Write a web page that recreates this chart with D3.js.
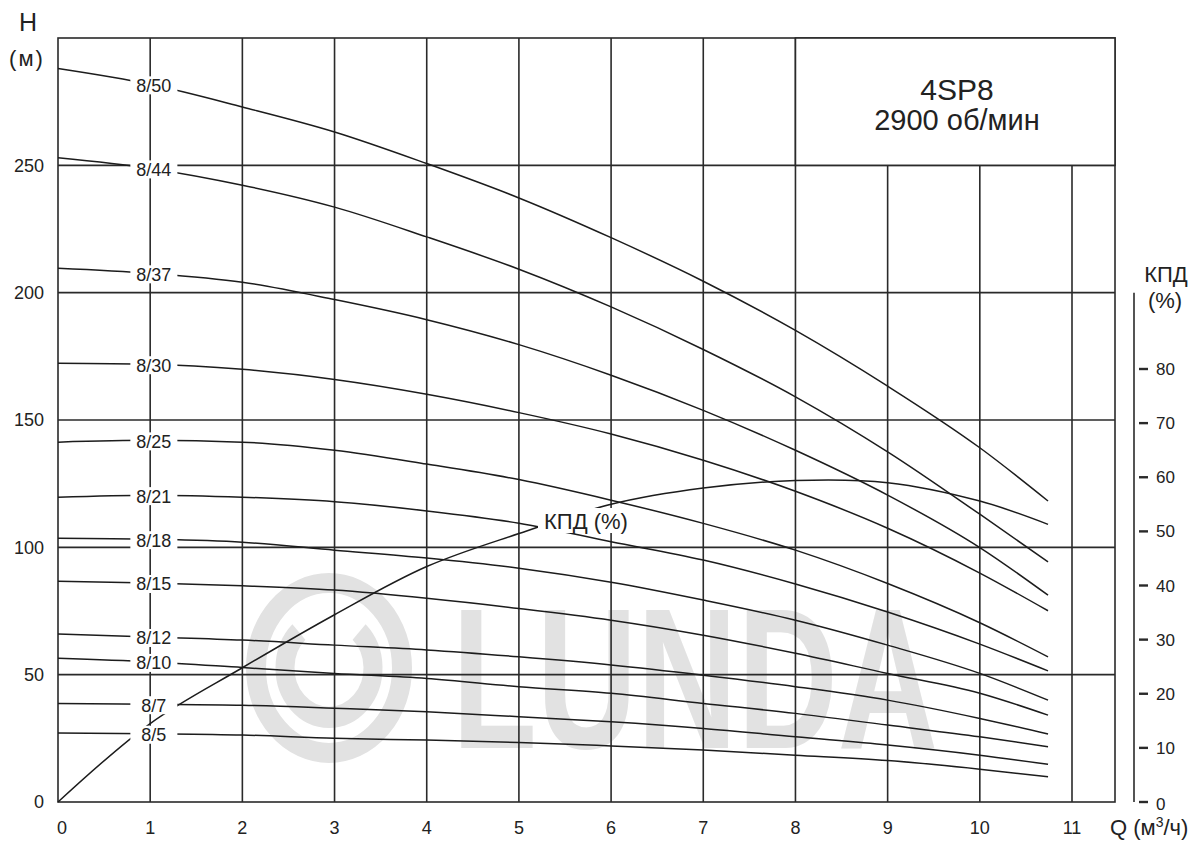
<!DOCTYPE html>
<html><head><meta charset="utf-8">
<script src="https://cdn.jsdelivr.net/npm/d3@7/dist/d3.min.js"></script>
<style>
body{margin:0;background:#fff}
text{font-family:"Liberation Sans",Arial,Helvetica,sans-serif;fill:#222}
</style>
</head><body>
<svg id="chart" width="1200" height="841"></svg>
<script>
// ---- data ----
const flow = [0, 1, 2, 3, 4, 5, 6, 7, 8, 9, 10, 10.74];
const models = ["8/50","8/44","8/37","8/30","8/25","8/21","8/18","8/15","8/12","8/10","8/7","8/5"];
const head_8_50 = [288, 281.8, 272.9, 263.1, 250.7, 237.2, 221.6, 204.5, 185.2, 163.3, 139.1, 118.2];
const head_8_44 = [253, 248.8, 242.2, 233.6, 221.9, 209.2, 194.4, 177.7, 159.1, 137.5, 113, 94.3];
const head_8_37 = [209.6, 207.6, 204.1, 197.3, 189.4, 179.6, 167.6, 153.8, 138.1, 120.5, 99.9, 81.2];
const head_8_30 = [172.3, 171.9, 169.9, 165.9, 160.1, 152.9, 144.5, 134.2, 122, 107.5, 89.9, 75.1];
const head_8_25 = [141.3, 142, 141.3, 138.1, 132.7, 126.6, 118.5, 109.4, 98.9, 85.8, 70.4, 57];
const head_8_21 = [119.7, 120.5, 119.7, 117.9, 114.3, 109.5, 102.2, 95, 85.6, 74.6, 62, 51.5];
const head_8_18 = [103.6, 103.2, 102, 98.9, 95.8, 91.8, 86.3, 79.3, 71.4, 61.6, 50.5, 40];
const head_8_15 = [86.7, 86, 84.9, 83.2, 80, 76, 71.4, 65.5, 58.4, 50.5, 42.7, 34.1];
const head_8_12 = [66, 64.8, 63.6, 61.6, 59.7, 57, 53.8, 49.8, 45.3, 40, 32.8, 26.7];
const head_8_10 = [56.4, 55, 52.8, 50.5, 48.5, 45.3, 42.7, 38.7, 34.8, 30.2, 25.6, 21.7];
const head_8_7  = [38.7, 38.4, 38, 36.8, 35.4, 33.5, 31.5, 28.9, 25.6, 22.4, 18.4, 14.8];
const head_8_5  = [27.1, 26.8, 26.3, 25, 24.3, 23.4, 22, 20.4, 18.4, 16.3, 12.9, 9.9];
const heads = [head_8_50, head_8_44, head_8_37, head_8_30, head_8_25, head_8_21,
               head_8_18, head_8_15, head_8_12, head_8_10, head_8_7, head_8_5];
const efficiency = [0, 14.5, 24.8, 34.6, 43.5, 49.6, 55, 58, 59.4, 59, 55.6, 51.3];
const xTicks = [0,1,2,3,4,5,6,7,8,9,10,11];
const yTicks = [0,50,100,150,200,250];
const effTicks = [0,10,20,30,40,50,60,70,80];
const title1 = "4SP8", title2 = "2900 об/мин";

// ---- scales ----
const svg = d3.select("#chart");
const x = d3.scaleLinear().domain([0, 11]).range([58, 1072]);
const y = d3.scaleLinear().domain([0, 300]).range([802, 38]);
const ye = d3.scaleLinear().domain([0, 80]).range([802, 369]);
const xMax = x.invert(1115);

const gridCol = "#2a2a2a", curveCol = "#1c1c1c", wmCol = "#e2e2e2";

// ---- watermark ----
const wm = svg.append("g").attr("fill", "none").attr("stroke", wmCol);
wm.append("ellipse").attr("cx", 329).attr("cy", 668).attr("rx", 73).attr("ry", 85).attr("stroke-width", 20);
wm.append("path").attr("stroke-width", 19)
  .attr("d", d3.arc()({innerRadius: 44, outerRadius: 44, startAngle: Math.PI*0.24, endAngle: Math.PI*1.76}))
  .attr("transform", "translate(329,668) scale(1,1.12)");
svg.append("text").attr("x", 452).attr("y", 748).text("LUNDA")
  .style("font-size", "200px").style("font-weight", "bold").style("fill", wmCol)
  .attr("textLength", 486).attr("lengthAdjust", "spacingAndGlyphs");

// ---- grid ----
const grid = svg.append("g").attr("stroke", gridCol).attr("stroke-width", 1.6);
grid.selectAll("line.v").data(xTicks.filter(d => d > 0)).join("line")
  .attr("x1", d => x(d)).attr("x2", d => x(d)).attr("y1", y(0)).attr("y2", y(300));
grid.selectAll("line.h").data(yTicks.filter(d => d > 0)).join("line")
  .attr("x1", x(0)).attr("x2", x(xMax)).attr("y1", d => y(d)).attr("y2", d => y(d));
grid.append("rect").attr("x", x(0)).attr("y", y(300)).attr("width", x(xMax) - x(0)).attr("height", y(0) - y(300))
  .attr("fill", "none");
// title box
grid.append("rect").attr("x", x(8)).attr("y", y(300)).attr("width", x(xMax) - x(8)).attr("height", y(250) - y(300))
  .attr("fill", "#fff");
svg.append("text").attr("x", 957).attr("y", 100).attr("text-anchor", "middle").style("font-size", "30px").text(title1);
svg.append("text").attr("x", 957).attr("y", 130).attr("text-anchor", "middle").style("font-size", "29px").text(title2);

// ---- curves ----
const lineH = d3.line().x((d, i) => x(flow[i])).y(d => y(d)).curve(d3.curveMonotoneX);
svg.append("g").selectAll("path").data(heads).join("path")
  .attr("d", lineH).attr("fill", "none").attr("stroke", curveCol).attr("stroke-width", 1.5);
const lineE = d3.line().x((d, i) => x(flow[i])).y(d => ye(d)).curve(d3.curveCatmullRom.alpha(0.5));
svg.append("path").datum(efficiency).attr("d", lineE).attr("fill", "none")
  .attr("stroke", curveCol).attr("stroke-width", 1.5);

// ---- curve labels ----
const lab = svg.append("g");
heads.forEach((h, i) => {
  const cy = y(h[1]) + 1;
  lab.append("rect").attr("x", x(1.04) - 23.5).attr("y", cy - 9).attr("width", 47).attr("height", 18).attr("fill", "#fff");
  lab.append("text").attr("x", x(1.04)).attr("y", cy).attr("dy", "0.36em").attr("text-anchor", "middle")
    .style("font-size", "18px").text(models[i]);
});
// efficiency label
lab.append("rect").attr("x", 538).attr("y", 508).attr("width", 102).attr("height", 25).attr("fill", "#fff");
lab.append("text").attr("x", 544).attr("y", 529).style("font-size", "22px").text("КПД (%)");

// ---- axes labels ----
const ax = svg.append("g");
ax.selectAll("text.x").data(xTicks).join("text")
  .attr("x", d => x(d) + (d === 0 ? 4 : 0)).attr("y", 834).attr("text-anchor", "middle")
  .style("font-size", "18px").text(d => d);
ax.selectAll("text.y").data(yTicks).join("text")
  .attr("x", 44).attr("y", d => y(d)).attr("dy", "0.36em").attr("text-anchor", "end")
  .style("font-size", "18px").text(d => d);
svg.append("text").attr("x", 28).attr("y", 31).attr("text-anchor", "middle").style("font-size", "25px").text("H");
svg.append("text").attr("x", 27).attr("y", 66).attr("text-anchor", "middle").style("font-size", "22px")
  .style("letter-spacing", "2px").text("(м)");
const q = svg.append("text").attr("x", 1110).attr("y", 835).style("font-size", "22px");
q.append("tspan").text("Q (м");
q.append("tspan").attr("dy", -8).style("font-size", "14px").text("3");
q.append("tspan").attr("dy", 8).text("/ч)");

// efficiency axis
const ea = svg.append("g");
ea.append("line").attr("x1", 1134).attr("x2", 1134).attr("y1", ye(0)).attr("y2", y(200))
  .attr("stroke", gridCol).attr("stroke-width", 1.6);
ea.selectAll("line.t").data(effTicks).join("line")
  .attr("x1", 1139).attr("x2", 1148).attr("y1", d => ye(d)).attr("y2", d => ye(d))
  .attr("stroke", gridCol).attr("stroke-width", 2.4);
ea.selectAll("text").data(effTicks).join("text")
  .attr("x", 1156).attr("y", d => ye(d) + (d === 0 ? 2 : 0)).attr("dy", "0.36em")
  .style("font-size", "17px").text(d => d);
svg.append("text").attr("x", 1166).attr("y", 282).attr("text-anchor", "middle").style("font-size", "22px").text("КПД");
svg.append("text").attr("x", 1165).attr("y", 308).attr("text-anchor", "middle").style("font-size", "22px").text("(%)");
</script>
</body></html>
